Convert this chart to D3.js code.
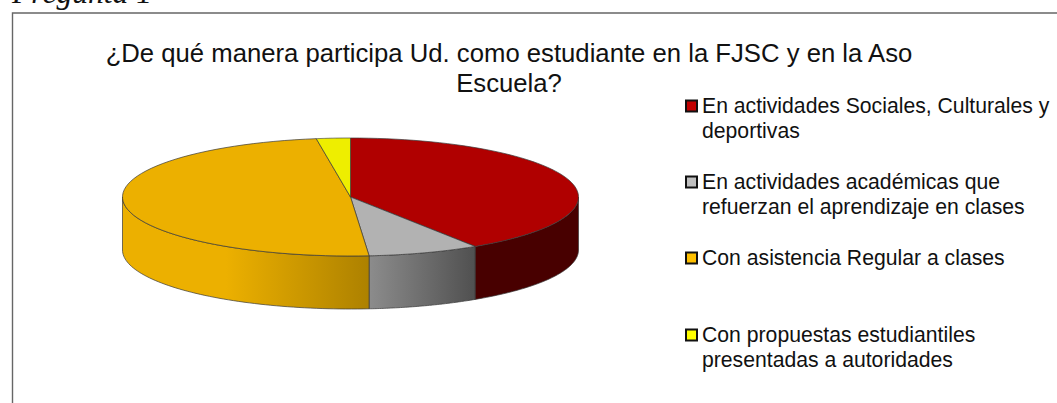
<!DOCTYPE html>
<html>
<head>
<meta charset="utf-8">
<script src="https://cdn.jsdelivr.net/npm/d3@7"></script>
<style>
html,body{margin:0;padding:0;background:#fff;}
svg{display:block;}
text{font-family:"Liberation Sans",Arial,sans-serif;fill:#111;}
</style>
</head>
<body>
<svg id="chart" width="1057" height="403"></svg>
<script>
var categories = [
	["En actividades Sociales, Culturales y","deportivas"],
	["En actividades académicas que","refuerzan el aprendizaje en clases"],
	["Con asistencia Regular a clases"],
	["Con propuestas estudiantiles","presentadas a autoridades"]
];
var values = [40.8, 7.9, 48.9, 2.4];
var topColors = ["#b00000","#b2b2b2","#ecb000","#eeee00"];
var legendColors = ["#c00000","#bfbfbf","#ffc000","#ffff00"];
var sideLeft = ["#480000","#8c8c8c","#ecb000","#eeee00"];
var sideRight = ["#480000","#505050","#ad8100","#eeee00"];
var titleLines = ["¿De qué manera participa Ud. como estudiante en la FJSC y en la Aso","Escuela?"];
var legendY = [113,189,265,342];

var svg = d3.select("#chart");
var cx = 350.5, cy = 197, rx = 228, ry = 59, depth = 53;

svg.append("text").attr("x",12).attr("y",3)
	.style("font-family",'"Liberation Serif",serif').style("font-style","italic").style("font-size","31.6px")
	.text("Pregunta 1");

svg.append("path").attr("d","M12.5,403V13H1057")
	.attr("fill","none").attr("stroke","#666").attr("stroke-width",1.4);

var defs = svg.append("defs");
var slices = d3.pie().sort(null)(values);

function pt(a,dy){
	return [cx + rx*Math.sin(a), cy - ry*Math.cos(a) + (dy||0)];
}
function samples(a0,a1){
	return d3.range(0,65).map(function(i){return a0 + (a1-a0)*i/64;});
}
var line = d3.line();

// side wall, only the front half (angles between 90 and 270 degrees)
slices.forEach(function(s,i){
	var a0 = Math.max(s.startAngle,Math.PI/2), a1 = Math.min(s.endAngle,Math.PI*1.5);
	if(a1<=a0) return;
	var front = samples(a0,a1);
	var pts = front.map(function(a){return pt(a,0);})
		.concat(front.slice().reverse().map(function(a){return pt(a,depth);}));
	var x0 = d3.min(pts,function(p){return p[0];}), x1 = d3.max(pts,function(p){return p[0];});
	var g = defs.append("linearGradient").attr("id","side"+i)
		.attr("gradientUnits","userSpaceOnUse")
		.attr("x1",x0).attr("x2",x1).attr("y1",0).attr("y2",0);
	g.append("stop").attr("offset",0).attr("stop-color",sideLeft[i]);
	if(i==2) g.append("stop").attr("offset",0.42).attr("stop-color",sideLeft[i]);
	g.append("stop").attr("offset",1).attr("stop-color",sideRight[i]);
	svg.append("path").attr("d",line(pts)+"Z")
		.attr("fill","url(#side"+i+")")
		.attr("stroke","#3a3a3a").attr("stroke-width",0.7);
});

// top face
slices.forEach(function(s,i){
	var pts = [[cx,cy]].concat(samples(s.startAngle,s.endAngle).map(function(a){return pt(a,0);}));
	svg.append("path").attr("d",line(pts)+"Z")
		.attr("fill",topColors[i])
		.attr("stroke","#3a3a3a").attr("stroke-width",0.7);
});

// title
svg.append("g").selectAll("text").data(titleLines).join("text")
	.attr("x",509).attr("y",function(d,i){return 61.5+i*30;})
	.attr("text-anchor","middle").style("font-size","25.7px")
	.text(function(d){return d;});

// legend
var legend = svg.append("g").selectAll("g").data(categories).join("g")
	.attr("transform",function(d,i){return "translate(0,"+legendY[i]+")";});
legend.append("rect").attr("x",686).attr("y",-12.5).attr("width",11).attr("height",11)
	.attr("fill",function(d,i){return legendColors[i];})
	.attr("stroke","#111").attr("stroke-width",2);
legend.selectAll("text").data(function(d){return d;}).join("text")
	.attr("x",702).attr("y",function(d,i){return i*25;})
	.style("font-size","21.2px")
	.text(function(d){return d;});
</script>
</body>
</html>
